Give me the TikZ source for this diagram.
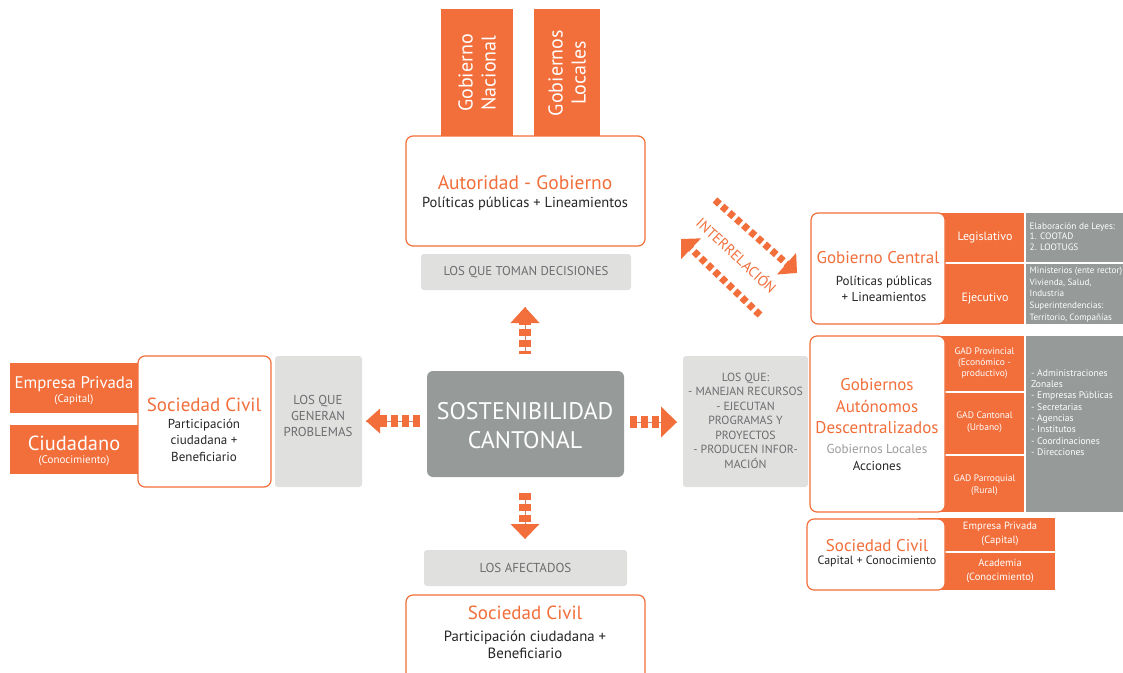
\documentclass[tikz,border=0pt]{standalone}
\usepackage{fontspec}
\setmainfont{PT Sans}
\usetikzlibrary{arrows.meta}

\definecolor{orng}{HTML}{F26E3A}
\definecolor{dgrey}{HTML}{969A99}
\definecolor{lgrey}{HTML}{E0E0DF}
\definecolor{tgrey}{HTML}{6C6D6F}
\definecolor{sgrey}{HTML}{9A9C9E}

\newcommand\fsz[2]{\fontsize{#1}{#2}\selectfont}

\tikzset{
  box/.style={anchor=north west, inner sep=0pt, outer sep=0pt},
  whitebox/.style={box, draw=orng, fill=white, line width=1.2pt, rounded corners=7pt},
  orangebox/.style={box, fill=orng},
  greybox/.style={box, fill=dgrey},
  labelbox/.style={box, fill=lgrey, rounded corners=3pt},
  centrebox/.style={box, fill=dgrey, rounded corners=6pt},
  txt/.style={inner sep=0pt, outer sep=0pt, align=center},
  title/.style={txt, text=orng},
  body/.style={txt, text=black!85},
  labeltxt/.style={txt, text=tgrey},
  wtxt/.style={txt, text=white},
  listtxt/.style={inner sep=0pt, align=left, anchor=west, text=white},
  sepline/.style={draw=white, line width=2pt},
  shaft/.style={draw=orng!55!dgrey, line width=0.9pt},
  bars/.style={draw=orng, line width=#1, dash pattern=on 7pt off 4pt},
  diagbars/.style={draw=orng, line width=7pt, dash pattern=on 6pt off 3.5pt},
}

\begin{document}
\begin{tikzpicture}[x=1pt,y=-1pt]
\useasboundingbox (0,0) rectangle (1123,672);
\fill[white] (0,0) rectangle (1123,672);

% ---------- top: authority ----------
\node[orangebox, minimum width=72pt, minimum height=128pt] (gnac) at (441,9) {};
\node[wtxt, rotate=90, font=\fsz{20}{23}] (gnacT) at (gnac.center) {Gobierno\\Nacional};
\node[orangebox, minimum width=66pt, minimum height=128pt] (gloc) at (534,9) {};
\node[wtxt, rotate=90, font=\fsz{20}{23}] (glocT) at (gloc.center) {Gobiernos\\Locales};

\node[whitebox, minimum width=239pt, minimum height=110pt] (auth) at (406,136) {};
\node[title, font=\fsz{19.5}{22}] (authT) at (525,183) {Autoridad - Gobierno};
\node[body, font=\fsz{14.5}{17}] (authS) at (525,204) {Políticas públicas + Lineamientos};

\node[labelbox, minimum width=210pt, minimum height=36pt] (decide) at (421,254) {};
\node[labeltxt, font=\fsz{12.8}{14}] (decideT) at (decide.center) {LOS QUE TOMAN DECISIONES};

% ---------- centre ----------
\node[centrebox, minimum width=197pt, minimum height=106pt] (core) at (427,371) {};
\node[wtxt, font=\fsz{24}{29}] (coreT) at (525,426) {SOSTENIBILIDAD\\CANTONAL};

% ---------- bottom: affected ----------
\node[labelbox, minimum width=203pt, minimum height=36pt] (affect) at (424,550) {};
\node[labeltxt, font=\fsz{13}{14}] (affectT) at (affect.center) {LOS AFECTADOS};

\node[whitebox, minimum width=239pt, minimum height=100pt] (civB) at (406,595) {};
\node[title, font=\fsz{19}{22}] (civBT) at (525,613) {Sociedad Civil};
\node[body, font=\fsz{14.8}{17}] (civBS) at (525,645) {Participación ciudadana +\\Beneficiario};

% ---------- left: civil society ----------
\node[orangebox, minimum width=140pt, minimum height=50pt] (empL) at (10,363) {};
\node[wtxt, font=\fsz{16.8}{18}] (empLT) at (74,384) {Empresa Privada};
\node[wtxt, font=\fsz{11}{13}] (empLS) at (74,400) {(Capital)};
\node[orangebox, minimum width=140pt, minimum height=49pt] (ciud) at (10,425) {};
\node[wtxt, font=\fsz{20.4}{22}] (ciudT) at (74,443) {Ciudadano};
\node[wtxt, font=\fsz{11}{13}] (ciudS) at (74,461) {(Conocimiento)};

\node[whitebox, minimum width=133pt, minimum height=131pt] (civL) at (138,356) {};
\node[title, font=\fsz{19}{22}] (civLT) at (204,405) {Sociedad Civil};
\node[body, font=\fsz{13}{16.5}] (civLS) at (204,440) {Participación\\ciudadana +\\Beneficiario};

\node[labelbox, minimum width=87pt, minimum height=131pt] (probl) at (275,356) {};
\node[labeltxt, font=\fsz{12.9}{16}] (problT) at (318,416) {LOS QUE\\GENERAN\\PROBLEMAS};

% ---------- right: resources ----------
\node[labelbox, minimum width=125pt, minimum height=131pt] (resrc) at (683,356) {};
\node[labeltxt, font=\fsz{11.8}{14.5}] (resrcT) at (745.5,420.5)
  {LOS QUE:\\- MANEJAN RECURSOS\\- EJECUTAN\\PROGRAMAS Y\\PROYECTOS\\- PRODUCEN INFOR-\\MACIÓN};

% Gobierno Central
\node[orangebox, minimum width=89pt, minimum height=111pt] (gcCol) at (935,213) {};
\node[greybox, minimum width=97pt, minimum height=111pt] (gcList) at (1026,213) {};
\coordinate (gcSepA) at (945,263);
\coordinate (gcSepB) at (1123,263);
\draw[sepline] (gcSepA) -- (gcSepB);
\node[whitebox, minimum width=134pt, minimum height=111pt] (gc) at (811,213) {};
\node[title, font=\fsz{17}{20}] (gcT) at (878,258) {Gobierno Central};
\node[body, font=\fsz{13}{16}] (gcS) at (884,289) {Políticas públicas\\+ Lineamientos};
\node[wtxt, font=\fsz{12}{14}] (legis) at (985,238) {Legislativo};
\node[wtxt, font=\fsz{12}{14}] (ejec) at (985,299) {Ejecutivo};
\node[listtxt, font=\fsz{9.3}{10.5}] (legisL) at (1029.5,236.5) {Elaboración de Leyes:\\1. COOTAD\\2. LOOTUGS};
\node[listtxt, font=\fsz{9.1}{11.7}] (ejecL) at (1029.5,294.5) {Ministerios (ente rector)\\Vivienda, Salud,\\Industria\\Superintendencias:\\Territorio, Compañías};

% Gobiernos Autonomos Descentralizados
\node[orangebox, minimum width=89pt, minimum height=176pt] (gadCol) at (935,336) {};
\node[greybox, minimum width=97pt, minimum height=176pt] (gadList) at (1026,336) {};
\coordinate (gadSepA) at (945,392);
\coordinate (gadSepB) at (1024,392);
\coordinate (gadSepC) at (945,455);
\coordinate (gadSepD) at (1024,455);
\draw[sepline] (gadSepA) -- (gadSepB);
\draw[sepline] (gadSepC) -- (gadSepD);
\node[whitebox, minimum width=135pt, minimum height=176pt] (gad) at (810,336) {};
\node[title, font=\fsz{17}{21.5}] (gadT) at (877,406.5) {Gobiernos\\Autónomos\\Descentralizados};
\node[txt, text=sgrey, font=\fsz{13}{15}] (gadS) at (877,449) {Gobiernos Locales};
\node[body, font=\fsz{13}{15}] (gadA) at (877,466) {Acciones};
\node[wtxt, font=\fsz{9.5}{11}] (gadProv) at (984.5,363) {GAD Provincial\\(Económico -\\productivo)};
\node[wtxt, font=\fsz{9.5}{11.5}] (gadCant) at (984.5,422) {GAD Cantonal\\(Urbano)};
\node[wtxt, font=\fsz{9.5}{11.5}] (gadParr) at (984.5,485) {GAD Parroquial\\(Rural)};
\node[listtxt, font=\fsz{9.6}{11.3}] (gadL) at (1031,412.5)
  {- Administraciones\\Zonales\\- Empresas Públicas\\- Secretarias\\- Agencias\\- Institutos\\- Coordinaciones\\- Direcciones};

% Sociedad Civil (capital + knowledge)
\node[orangebox, minimum width=137pt, minimum height=72pt] (scCol) at (918,518) {};
\coordinate (scSepA) at (945,552);
\coordinate (scSepB) at (1055,552);
\draw[sepline] (scSepA) -- (scSepB);
\node[whitebox, minimum width=138pt, minimum height=71pt] (sc) at (807,519) {};
\node[title, font=\fsz{17}{20}] (scT) at (877,546) {Sociedad Civil};
\node[body, font=\fsz{12}{14}] (scS) at (877,561) {Capital + Conocimiento};
\node[wtxt, font=\fsz{10.5}{14}] (scEmp) at (1000,534) {Empresa Privada\\(Capital)};
\node[wtxt, font=\fsz{10.5}{14}] (scAca) at (1000,571) {Academia\\(Conocimiento)};

% ---------- arrows out of the centre ----------
\coordinate (upTail) at (525,354);
\coordinate (upTip) at (525,307);
\coordinate (dnTail) at (525,493);
\coordinate (dnTip) at (525,539);
\coordinate (rtTail) at (630,422);
\coordinate (rtTip) at (677,422);
\coordinate (ltTail) at (420,421);
\coordinate (ltTip) at (366,421);

\draw[shaft] (upTail) -- (upTip);
\draw[bars=12pt, dash phase=4pt, -{Triangle[length=16pt,width=28pt]}, orng] (upTail) -- (upTip);
\draw[shaft] (dnTail) -- (dnTip);
\draw[bars=12pt, -{Triangle[length=15pt,width=28pt]}, orng] (dnTail) -- (dnTip);
\draw[shaft] (rtTail) -- (rtTip);
\draw[bars=12pt, -{Triangle[length=16pt,width=30pt]}, orng] (rtTail) -- (rtTip);
\draw[shaft] (ltTail) -- (ltTip);
\draw[bars=12pt, -{Triangle[length=14pt,width=24pt]}, orng] (ltTail) -- (ltTip);

% ---------- interrelation arrows ----------
\coordinate (irATail) at (715,200);
\coordinate (irATip) at (797,273);
\coordinate (irBTail) at (760,315);
\coordinate (irBTip) at (681,239);
\draw[diagbars, -{Triangle[length=14pt,width=28pt]}, orng] (irATail) -- (irATip);
\draw[diagbars, -{Triangle[length=14pt,width=28pt]}, orng] (irBTail) -- (irBTip);
\node[txt, text=orng, rotate=-43, font=\fsz{14.5}{16}] (irT) at (737,255) {INTERRELACIÓN};

\end{tikzpicture}
\end{document}
